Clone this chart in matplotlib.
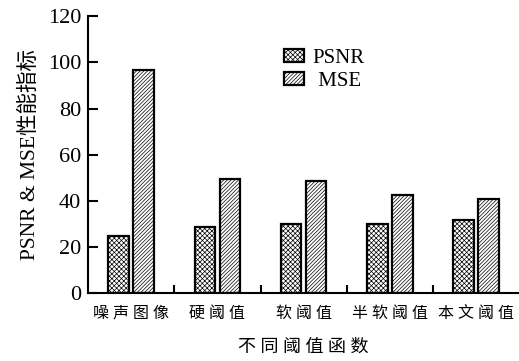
"""
PSNR & MSE 不同阈值函数对比柱状图
"""

import matplotlib.pyplot as plt
import numpy as np

# ============================================================
# 数据
# ============================================================

categories = ['噪声图像', '硬阈值', '软阈值', '半软阈值', '本文阈值']
psnr = [24.8, 28.5, 29.8, 30.1, 31.5]
mse = [96.8, 49.6, 48.6, 42.4, 40.8]
yticks = [0, 20, 40, 60, 80, 100, 120]

# ============================================================
# 样式
# ============================================================

plt.rcParams['font.family'] = ['Liberation Serif', 'Noto Sans CJK SC']
plt.rcParams['hatch.linewidth'] = 0.5
plt.rcParams['hatch.color'] = '#555555'

fig = plt.figure(figsize=(5.19, 3.61), dpi=100)
ax = fig.add_axes([0.170, 0.188, 0.830, 0.767])

x = np.arange(len(categories))
width = 0.24
gap = 0.025

ax.bar(x - width / 2 - gap, psnr, width, color='white', edgecolor='black',
       linewidth=1.6, hatch='xxxxxxx', label='PSNR')
ax.bar(x + width / 2 + gap, mse, width, color='white', edgecolor='black',
       linewidth=1.6, hatch='/////////', label=' MSE')

ax.set_xlim(-0.5, 4.5)
ax.set_ylim(0, 120)
ax.set_yticks(yticks)
ax.set_yticklabels([str(v) for v in yticks], fontsize=16)

ax.set_xticks(x)
ax.set_xticklabels([' '.join(c) for c in categories], fontsize=11.5)
ax.set_xticks(x[:-1] + 0.5, minor=True)
ax.tick_params(axis='x', which='major', length=0, pad=9)
ax.tick_params(axis='x', which='minor', direction='in', length=6, width=1.5)
ax.tick_params(axis='y', direction='in', length=7, width=1.5, pad=5)

for side in ['top', 'right']:
    ax.spines[side].set_visible(False)
for side in ['left', 'bottom']:
    ax.spines[side].set_linewidth(1.5)

ax.set_ylabel('PSNR & MSE性能指标', fontsize=15.5, labelpad=6)
ax.set_xlabel(' '.join('不同阈值函数'), fontsize=13, labelpad=12)

ax.legend(loc='upper left', bbox_to_anchor=(0.528, 0.893), bbox_transform=fig.transFigure,
          frameon=False, fontsize=15, handlelength=0.95, handleheight=0.6,
          handletextpad=0.4, labelspacing=0.2, borderpad=0)

plt.savefig('out.png', dpi=100)
plt.close()
